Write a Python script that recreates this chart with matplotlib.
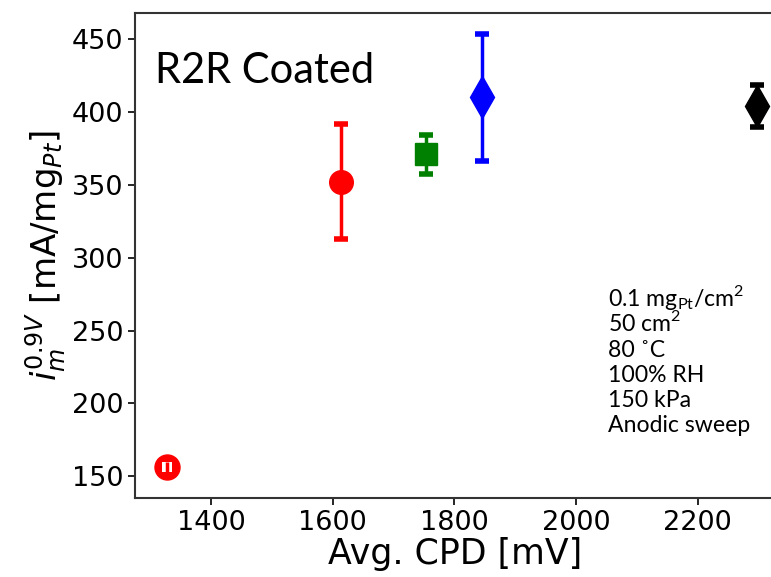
import matplotlib
matplotlib.use("Agg")
import matplotlib.pyplot as plt

# average CPD vs mass activity at 0.9 V
cpd = [1328, 1613, 1754, 1845, 2298]
act = [156, 352, 371, 410, 404]
err = [0, 39.5, 13.5, 43.5, 14.5]
colors = ["red", "red", "green", "blue", "black"]
markers = ["o", "o", "s", "d", "d"]
sizes = [18, 17, 16, 21, 21]

conditions = ["0.1 mg$_{\\mathregular{Pt}}$/cm$^{\\mathregular{2}}$",
              "50 cm$^{\\mathregular{2}}$",
              "80 \u02daC",
              "100% RH",
              "150 kPa",
              "Anodic sweep"]

fig = plt.figure(figsize=(7.71, 5.77), dpi=100)
ax = fig.add_axes([135 / 771, 79 / 577, 640 / 771, 485 / 577])

for x, y, e, c, m, s in zip(cpd, act, err, colors, markers, sizes):
    if e > 0:
        ax.errorbar(x, y, yerr=e, fmt=m, color=c, ms=s, elinewidth=2.5,
                    capsize=5, capthick=4)
    else:
        ax.plot(x, y, m, color=c, ms=s)
        # white core split by a red line on the first point
        ax.plot(x, y, "s", color="white", ms=7.5, mew=0)
        ax.vlines(x, y - 4, y + 4, color=c, lw=2.5)

ax.set_xlim(1275, 2327)
ax.set_ylim(135, 468)
ax.set_xticks([1400, 1600, 1800, 2000, 2200])
ax.set_yticks([150, 200, 250, 300, 350, 400, 450])
ax.tick_params(labelsize=19.5, width=1.2, length=5)
for sp in ax.spines.values():
    sp.set_linewidth(1.5)
    sp.set_color("#333333")

ax.set_xlabel("Avg. CPD [mV]", fontsize=25, labelpad=1)
ax.set_ylabel("$i_m^{0.9V}$ [mA/mg$_{Pt}$]", fontsize=24.5, labelpad=2)

ax.text(155, 577 - 83, "R2R Coated", transform=None, fontsize=30,
        family="Lato")
for i, line in enumerate(conditions):
    ax.text(608, 577 - 306 - 25.3 * i, line, transform=None, fontsize=16.6,
            family="Lato")

fig.savefig("out.png", dpi=100)
